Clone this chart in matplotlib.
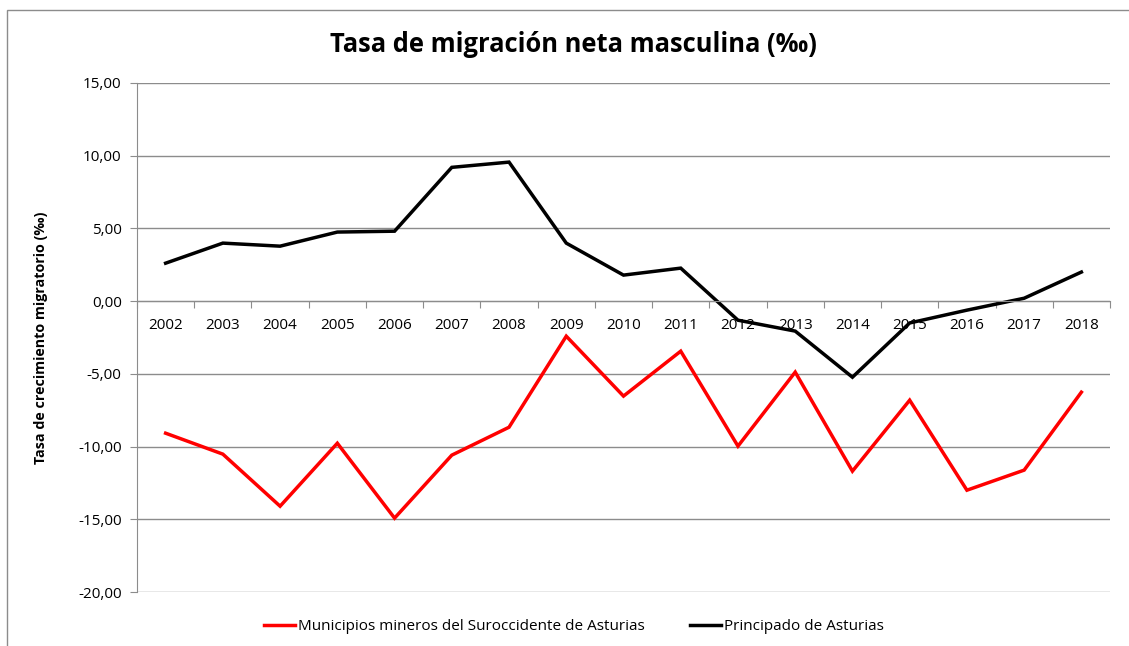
import matplotlib.pyplot as plt
import numpy as np
from matplotlib.patches import Rectangle
from matplotlib.ticker import FuncFormatter

years = [str(y) for y in range(2002, 2019)]
mineros = [-9.08, -10.52, -14.10, -9.77, -14.92, -10.59, -8.67, -2.41, -6.53,
           -3.44, -9.97, -4.88, -11.69, -6.81, -13.00, -11.62, -6.26]
asturias = [2.61, 3.99, 3.78, 4.75, 4.81, 9.20, 9.56, 3.99, 1.79, 2.27,
            -1.31, -2.06, -5.23, -1.50, -0.62, 0.20, 2.00]

plt.rcParams['font.family'] = ['Open Sans', 'DejaVu Sans']
grey = "#8c8c8c"

fig = plt.figure(figsize=(11.29, 6.46), dpi=100)
W, H = 1129, 646
ax = fig.add_axes([137 / W, 1 - 592 / H, (1110 - 137) / W, (592 - 83) / H])

# chart border
fig.patches.append(Rectangle((6.5 / W, -0.1), 1.2, 1 - 10.5 / H + 0.1,
                             transform=fig.transFigure, fill=False,
                             edgecolor=grey, linewidth=1))

x = np.arange(len(years))
ax.plot(x, mineros, color="#ff0000", linewidth=2.5, solid_joinstyle="miter",
        label="Municipios mineros del Suroccidente de Asturias")
ax.plot(x, asturias, color="black", linewidth=2.5, solid_joinstyle="miter",
        label="Principado de Asturias")

ax.set_xlim(-0.5, len(years) - 0.5)
ax.set_ylim(-20, 15)
ax.set_yticks(np.arange(-20, 16, 5))
ax.yaxis.set_major_formatter(FuncFormatter(lambda v, p: f"{v:.2f}".replace(".", ",")))
ax.grid(axis="y", color=grey, linewidth=1)
ax.set_axisbelow(True)

for s in ["top", "right"]:
    ax.spines[s].set_visible(False)
ax.spines["left"].set_color(grey)
ax.spines["bottom"].set_color(grey)
ax.spines["bottom"].set_position(("data", 0))

ax.set_xticks(np.arange(-0.5, len(years), 1))
ax.set_xticklabels([])
ax.set_xticks(x, minor=True)
ax.set_xticklabels(years, minor=True)
ax.tick_params(axis="x", which="major", length=5, color=grey, direction="out")
ax.tick_params(axis="x", which="minor", length=0, pad=12, labelsize=11)
ax.tick_params(axis="y", length=5, color=grey, labelsize=11, pad=6)

ax.set_ylabel("Tasa de crecimiento migratorio (‰)", fontsize=10.3,
              fontweight="bold", labelpad=22)
fig.text(573.5 / W, 1 - 45 / H, "Tasa de migración neta masculina (‰)",
         ha="center", va="center", fontsize=18.4, fontweight="bold")

fig.legend(loc="center", bbox_to_anchor=(574 / W, 1 - 627 / H), ncol=2,
           frameon=False, fontsize=11, handlelength=2.0,
           handletextpad=0.2, columnspacing=3.0)

fig.savefig("out.png", dpi=100)
